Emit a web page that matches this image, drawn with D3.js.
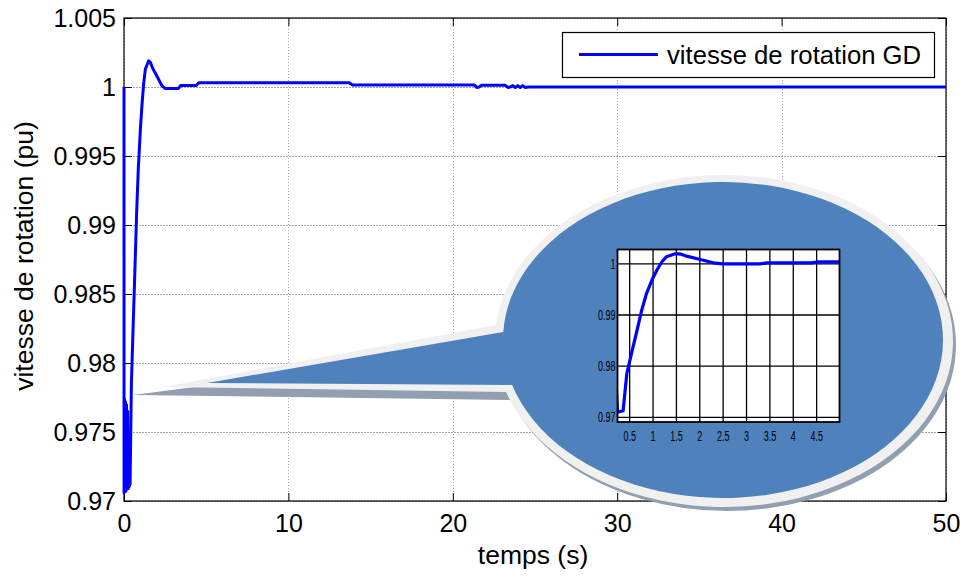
<!DOCTYPE html>
<html>
<head>
<meta charset="utf-8">
<script src="https://cdn.jsdelivr.net/npm/d3@7"></script>
<style>
  html, body { margin: 0; padding: 0; background: #fff; }
  svg { display: block; font-family: "Liberation Sans", Arial, Helvetica, sans-serif; }
</style>
</head>
<body>
<svg id="chart" width="964" height="576"></svg>
<script>
// Rotor speed of the generator (pu) versus time (s)
const timeS = [0, 0.004, 0.03, 0.06, 0.09, 0.12, 0.15, 0.18, 0.22, 0.25, 0.37, 0.45, 0.55, 0.66,
  0.77, 0.87, 1.0, 1.1, 1.2, 1.3, 1.5, 1.6, 1.73, 2.0, 2.3, 2.5, 3.3, 3.45, 4.4, 4.55,
  13.7, 13.9, 21.3, 21.45, 21.6, 21.75, 23.2, 23.35, 23.5, 23.65, 23.8, 23.95, 24.1, 24.25,
  24.4, 24.6, 50];
const speedPu = [1.0, 0.9706, 0.9774, 0.9708, 0.9772, 0.9707, 0.9770, 0.9710, 0.9765, 0.9709,
  0.9712, 0.9785, 0.9824, 0.9866, 0.9909, 0.9941, 0.9970, 0.9988, 1.0003, 1.0013, 1.0019,
  1.0018, 1.0014, 1.0008, 1.0001, 0.9999, 0.9999, 1.0001, 1.0001, 1.0003,
  1.0003, 1.00015, 1.00015, 0.99997, 1.0000, 1.00012, 1.00012, 0.99997, 1.0000, 1.0001,
  0.99997, 1.0001, 0.99997, 1.0001, 0.99997, 1.0000, 1.0000];

const xTicks = [0, 10, 20, 30, 40, 50];
const xTickLabels = ["0", "10", "20", "30", "40", "50"];
const yTicks = [0.97, 0.975, 0.98, 0.985, 0.99, 0.995, 1, 1.005];
const yTickLabels = ["0.97", "0.975", "0.98", "0.985", "0.99", "0.995", "1", "1.005"];

// zoomed view of the first seconds
const zoomXTicks = [0.5, 1, 1.5, 2, 2.5, 3, 3.5, 4, 4.5];
const zoomXTickLabels = ["0.5", "1", "1.5", "2", "2.5", "3", "3.5", "4", "4.5"];
const zoomYTicks = [0.97, 0.98, 0.99, 1];
const zoomYTickLabels = ["0.97", "0.98", "0.99", "1"];

const seriesName = "vitesse de rotation GD";
const xLabel = "temps (s)";
const yLabel = "vitesse de rotation (pu)";

const data = timeS.map((t, i) => ({ t, v: speedPu[i] }));

const svg = d3.select("#chart");
const plot = { left: 124, top: 18, right: 946, bottom: 501 };
const x = d3.scaleLinear().domain([0, 50]).range([plot.left, plot.right]);
const y = d3.scaleLinear().domain([0.97, 1.005]).range([plot.bottom, plot.top]);
const lineColor = "#0000ff";

// dotted grid
const grid = svg.append("g");
grid.append("g")
  .attr("transform", `translate(0,${plot.bottom})`)
  .call(d3.axisBottom(x).tickValues(xTicks).tickSize(-(plot.bottom - plot.top)).tickFormat(""));
grid.append("g")
  .attr("transform", `translate(${plot.left},0)`)
  .call(d3.axisLeft(y).tickValues(yTicks).tickSize(-(plot.right - plot.left)).tickFormat(""));
grid.selectAll(".domain").remove();
grid.selectAll(".tick line")
  .attr("stroke", "#a6a6a6").attr("stroke-dasharray", "1.5,1.5").attr("shape-rendering", "crispEdges");

// axes with inward ticks on all four sides
const axisFont = g => g.selectAll("text")
  .attr("font-size", 25).attr("fill", "#000")
  .attr("font-family", "'Liberation Sans', Arial, sans-serif");

const gx = svg.append("g").attr("transform", `translate(0,${plot.bottom})`)
  .call(d3.axisBottom(x).tickValues(xTicks).tickFormat((d, i) => xTickLabels[i])
    .tickSizeInner(-8).tickSizeOuter(0).tickPadding(13));
const gy = svg.append("g").attr("transform", `translate(${plot.left},0)`)
  .call(d3.axisLeft(y).tickValues(yTicks).tickFormat((d, i) => yTickLabels[i])
    .tickSizeInner(-8).tickSizeOuter(0).tickPadding(8));
const gxTop = svg.append("g").attr("transform", `translate(0,${plot.top})`)
  .call(d3.axisTop(x).tickValues(xTicks).tickFormat("").tickSizeInner(-8).tickSizeOuter(0));
const gyRight = svg.append("g").attr("transform", `translate(${plot.right},0)`)
  .call(d3.axisRight(y).tickValues(yTicks).tickFormat("").tickSizeInner(-8).tickSizeOuter(0));
[gx, gy, gxTop, gyRight].forEach(g => {
  g.select(".domain").remove();
  g.selectAll(".tick line").attr("stroke", "#000");
  axisFont(g);
});

svg.append("rect")
  .attr("x", plot.left).attr("y", plot.top)
  .attr("width", plot.right - plot.left).attr("height", plot.bottom - plot.top)
  .attr("fill", "none").attr("stroke", "#000").attr("stroke-width", 1.2);

// axis titles
svg.append("text")
  .attr("x", (plot.left + plot.right) / 2 - 2).attr("y", 564)
  .attr("text-anchor", "middle").attr("font-size", 26.5).text(xLabel);
svg.append("text")
  .attr("transform", `translate(33,256) rotate(-90)`)
  .attr("text-anchor", "middle").attr("font-size", 26.5).text(yLabel);

// speed curve
const line = d3.line().x(d => x(d.t)).y(d => y(d.v));
svg.append("path").datum(data)
  .attr("d", line).attr("fill", "none")
  .attr("stroke", lineColor).attr("stroke-width", 3).attr("stroke-linejoin", "round");

// legend
const legend = svg.append("g");
legend.append("rect")
  .attr("x", 562.5).attr("y", 32.5).attr("width", 372).attr("height", 45)
  .attr("fill", "#fff").attr("stroke", "#000").attr("stroke-width", 1.2);
legend.append("line")
  .attr("x1", 579).attr("x2", 658).attr("y1", 54.5).attr("y2", 54.5)
  .attr("stroke", lineColor).attr("stroke-width", 3);
legend.append("text")
  .attr("x", 667).attr("y", 64).attr("font-size", 25.7).text(seriesName);

// callout balloon holding the zoomed view
function balloon(cx, cy, rx, ry, tip, yTop, yBot) {
  const xAt = yy => cx - rx * Math.sqrt(1 - Math.pow((yy - cy) / ry, 2));
  return `M${tip[0]},${tip[1]} L${xAt(yTop)},${yTop} A${rx},${ry} 0 1 1 ${xAt(yBot)},${yBot} Z`;
}
const callout = svg.append("g");
callout.append("path")
  .attr("d", "M133,395 L512,346 L512,400 Z").attr("fill", "#919fb1");
callout.append("ellipse")
  .attr("cx", 727).attr("cy", 345).attr("rx", 229).attr("ry", 166).attr("fill", "#919fb1");
callout.append("path")
  .attr("d", balloon(724, 341, 229, 166, [163, 387], 325, 392)).attr("fill", "#f0f0f0");
callout.append("path")
  .attr("d", balloon(723, 340, 220, 158, [207, 383], 332, 385)).attr("fill", "#4f81bd");

// zoomed view
const inset = { left: 617.5, top: 249.5, right: 839.5, bottom: 422 };
const ix = d3.scaleLinear().domain([0.25, 5]).range([inset.left, inset.right]);
const iy = d3.scaleLinear().domain([0.969, 1.0027]).range([inset.bottom, inset.top]);
const ig = svg.append("g");
ig.append("rect")
  .attr("x", inset.left).attr("y", inset.top)
  .attr("width", inset.right - inset.left).attr("height", inset.bottom - inset.top)
  .attr("fill", "#fff");
ig.append("defs").append("clipPath").attr("id", "insetClip")
  .append("rect")
  .attr("x", inset.left).attr("y", inset.top)
  .attr("width", inset.right - inset.left).attr("height", inset.bottom - inset.top);

const igx = ig.append("g").attr("transform", `translate(0,${inset.bottom})`)
  .call(d3.axisBottom(ix).tickValues(zoomXTicks).tickFormat((d, i) => zoomXTickLabels[i])
    .tickSizeInner(inset.bottom - inset.top).tickSizeOuter(0).tickPadding(8));
igx.selectAll(".tick line").attr("y2", -(inset.bottom - inset.top));
const igy = ig.append("g").attr("transform", `translate(${inset.left},0)`)
  .call(d3.axisLeft(iy).tickValues(zoomYTicks).tickFormat((d, i) => zoomYTickLabels[i])
    .tickSizeOuter(0).tickSizeInner(0).tickPadding(3));
igy.selectAll(".tick line").attr("x2", inset.right - inset.left);
[igx, igy].forEach(g => {
  g.select(".domain").remove();
  g.selectAll(".tick line").attr("stroke", "#000").attr("stroke-width", 1.3);
  g.selectAll("text")
    .attr("font-size", 14.5).attr("fill", "#000")
    .attr("font-family", "'Liberation Sans', Arial, sans-serif");
});
igx.selectAll(".tick text").attr("y", 0).attr("dy", 0)
  .attr("transform", `translate(0,18.5) scale(0.62,1)`);
igy.selectAll(".tick text").attr("x", 0).attr("dy", "0.34em")
  .attr("transform", `translate(-2,0) scale(0.62,1)`);

ig.append("path").datum(data)
  .attr("clip-path", "url(#insetClip)")
  .attr("d", d3.line().x(d => ix(d.t)).y(d => iy(d.v)))
  .attr("fill", "none").attr("stroke", lineColor).attr("stroke-width", 3.2)
  .attr("stroke-linejoin", "round");
ig.append("rect")
  .attr("x", inset.left).attr("y", inset.top)
  .attr("width", inset.right - inset.left).attr("height", inset.bottom - inset.top)
  .attr("fill", "none").attr("stroke", "#000").attr("stroke-width", 1.8);
</script>
</body>
</html>
